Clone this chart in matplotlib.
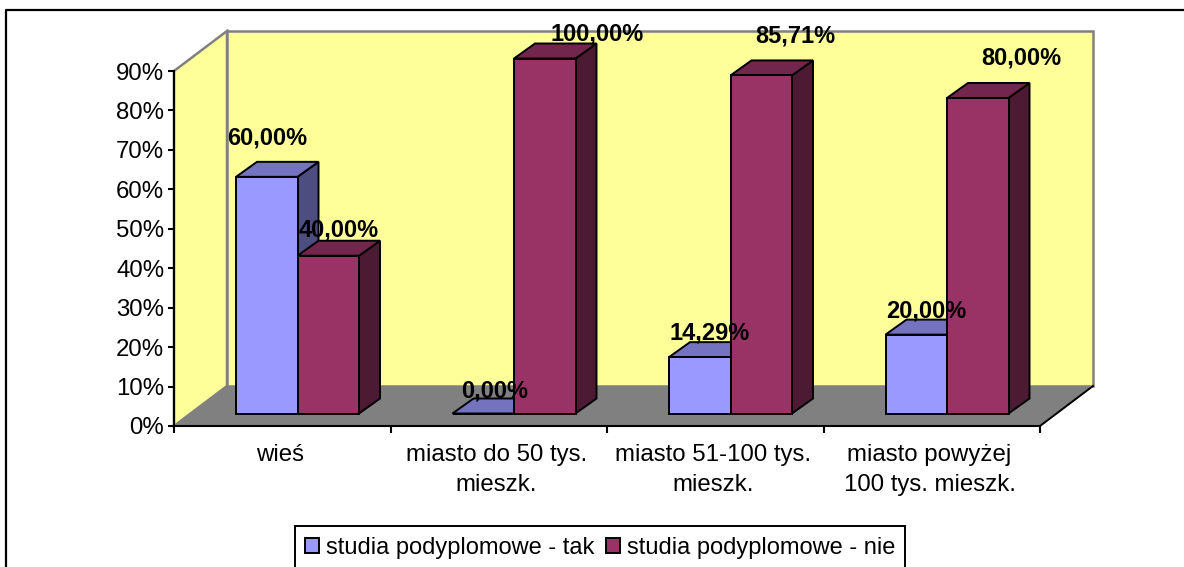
import matplotlib
matplotlib.use('Agg')
import matplotlib.pyplot as plt
from matplotlib.lines import Line2D
from matplotlib.patches import Polygon, Patch

plt.rcParams['font.family'] = ['Liberation Sans', 'DejaVu Sans']

categories = ['wieś', 'miasto do 50 tys.\nmieszk.', 'miasto 51-100 tys.\nmieszk.', 'miasto powyżej\n100 tys. mieszk.']
series_names = ['studia podyplomowe - tak', 'studia podyplomowe - nie']
tak_values = [60.00, 0.00, 14.29, 20.00]
nie_values = [40.00, 100.00, 85.71, 80.00]
y_ticks = [0, 10, 20, 30, 40, 50, 60, 70, 80, 90]
y_max = 90


# pixel sizes -> data units
def px_x(n):
    return n * 4 / 866


def px_y(n):
    return n * y_max / 355


def pct(v):
    return ('%.2f%%' % v).replace('.', ',')


def draw_bar(ax, left, value, width, front, top, side):
    # excel style 3d column, the axis cuts off anything above y_max
    h = min(value, y_max)
    base = px_y(12.5)
    dx = px_x(21)
    dy = px_y(15)
    ax.add_patch(Polygon([(left + width, base), (left + width + dx, base + dy),
                          (left + width + dx, base + h + dy), (left + width, base + h)],
                         facecolor=side, edgecolor='black', lw=1.4, zorder=3, clip_on=False))
    ax.add_patch(Polygon([(left, base + h), (left + dx, base + h + dy),
                          (left + width + dx, base + h + dy), (left + width, base + h)],
                         facecolor=top, edgecolor='black', lw=1.4, zorder=3, clip_on=False))
    ax.bar(left, h, width, bottom=base, align='edge', color=front, edgecolor='black', lw=1.4,
           zorder=3, clip_on=False)


fig = plt.figure(figsize=(11.84, 5.67), dpi=100)
ax = fig.add_axes([174 / 1184, (567 - 426) / 567, 866 / 1184, 355 / 567])
ax.set_xlim(0, 4)
ax.set_ylim(0, y_max)
ax.patch.set_visible(False)

# walls and floor
wx = px_x(53)
wy = px_y(40)
wall = '#808080'
ax.add_patch(Polygon([(0, 0), (wx, wy), (wx, y_max + wy), (0, y_max)], facecolor='#FFFF99',
                     edgecolor=wall, lw=1.8, clip_on=False, zorder=1))
ax.add_patch(Polygon([(wx, wy), (wx, y_max + wy), (4 + wx, y_max + wy), (4 + wx, wy)], facecolor='#FFFF99',
                     edgecolor=wall, lw=1.8, clip_on=False, zorder=1))
ax.add_patch(Polygon([(0, 0), (4, 0), (4 + wx, wy), (wx, wy)], facecolor=wall, edgecolor='none',
                     clip_on=False, zorder=1.5))
ax.plot([4, 4 + wx], [0, wy], color='black', lw=1.4, clip_on=False, zorder=2)

bar_w = 61.5 / 216.5
gap = 62 / 216.5
for i in range(len(categories)):
    draw_bar(ax, i + gap, tak_values[i], bar_w, '#9999FF', '#7373BF', '#4D4D80')
    draw_bar(ax, i + gap + bar_w, nie_values[i], bar_w, '#993366', '#73264D', '#4D1A33')

# data labels, excel places them a bit unevenly
tak_shift = [(0, 38), (11, 22), (10, 24), (10, 23)]
nie_shift = [(10, 25), (52, 24), (34, 39), (44, 39)]
for i in range(len(categories)):
    for off, vals, shift in ((0.5, tak_values, tak_shift), (1.5, nie_values, nie_shift)):
        ax.annotate(pct(vals[i]), (i + gap + off * bar_w, px_y(13) + min(vals[i], y_max)),
                    xytext=shift[i], textcoords='offset pixels', ha='center', va='center',
                    fontsize=17, fontweight='bold', color='black', zorder=5, annotation_clip=False)

for s in ['top', 'right']:
    ax.spines[s].set_visible(False)
for s in ['left', 'bottom']:
    ax.spines[s].set_linewidth(1.5)
    ax.spines[s].set_zorder(4)

ax.set_yticks(y_ticks)
ax.set_yticklabels(['%d%%' % t for t in y_ticks], fontsize=17.3)
ax.tick_params(axis='y', length=4, width=1.5, pad=3)
ax.set_xticks(range(len(categories) + 1))
ax.set_xticklabels([])
ax.tick_params(axis='x', which='major', length=5, width=1.5)
ax.set_xticks([i + 0.49 for i in range(len(categories))], minor=True)
ax.set_xticklabels(categories, minor=True, fontsize=17.3, linespacing=1.46)
ax.tick_params(axis='x', which='minor', length=0, pad=13)

handles = [Patch(facecolor='#9999FF', edgecolor='black', lw=1.4),
           Patch(facecolor='#993366', edgecolor='black', lw=1.4)]
leg = fig.legend(handles, series_names, loc='lower left', bbox_to_anchor=(295 / 1184, -2 / 567),
                 bbox_transform=fig.transFigure, ncol=2, fontsize=17, frameon=True, fancybox=False,
                 framealpha=1, edgecolor='black', borderaxespad=0, borderpad=0.44,
                 handlelength=0.57, handleheight=0.57, handletextpad=0.3, columnspacing=0.5)
leg.get_frame().set_linewidth(1.4)

# outer chart frame, right and bottom run off the picture
fig.add_artist(Line2D([6 / 1184, 6 / 1184, 1], [0, (567 - 10) / 567, (567 - 10) / 567], color='black', lw=1.6,
                      transform=fig.transFigure))

fig.savefig('out.png', dpi=100)
